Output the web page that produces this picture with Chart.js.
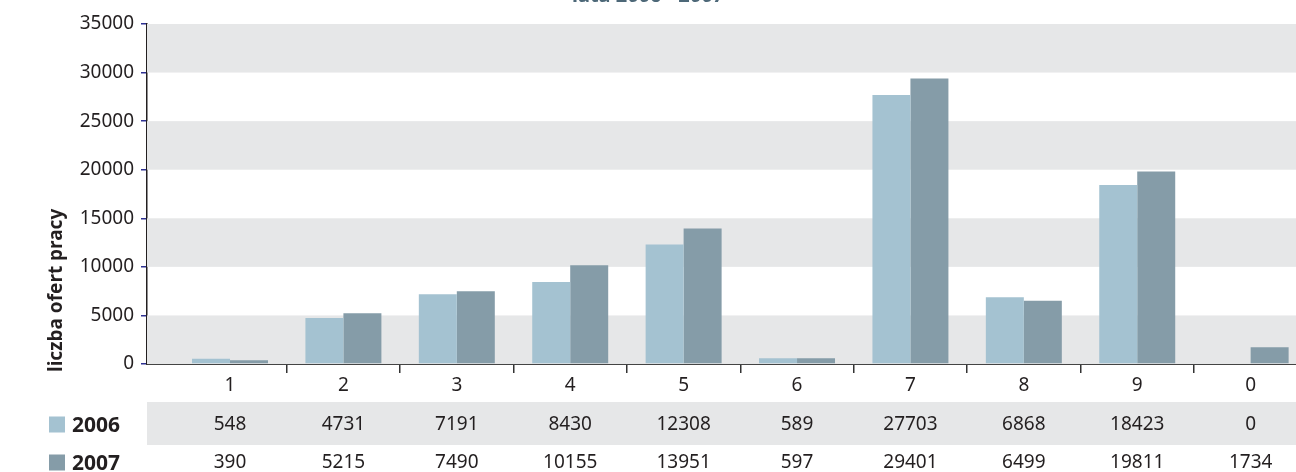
<!DOCTYPE html>
<html>
<head>
<meta charset="utf-8">
<script src="https://cdn.jsdelivr.net/npm/chart.js@4/dist/chart.umd.min.js"></script>
<style>
  html, body { margin: 0; padding: 0; background: #fff; overflow: hidden; width: 1296px; height: 472px; }
  #wrap { position: absolute; left: 0; top: -20px; width: 1296px; height: 492px; }
</style>
</head>
<body>
<div id="wrap"><canvas id="c" width="1296" height="492"></canvas></div>
<script>
const chartTitle = 'lata 2006 - 2007';
const yAxisTitle = 'liczba ofert pracy';
const categories = ['1', '2', '3', '4', '5', '6', '7', '8', '9', '0'];
const seriesNames = ['2006', '2007'];
const values2006 = [548, 4731, 7191, 8430, 12308, 589, 27703, 6868, 18423, 0];
const values2007 = [390, 5215, 7490, 10155, 13951, 597, 29401, 6499, 19811, 1734];
const yTicks = [0, 5000, 10000, 15000, 20000, 25000, 30000, 35000];

const colors = ['#a4c2d1', '#859ca8'];
const bandColor = '#e6e7e8';
const textColor = '#231f20';
const FONT = "'Noto Sans', 'Liberation Sans', sans-serif";

const bandsPlugin = {
  id: 'bands',
  beforeDatasetsDraw(chart) {
    const { ctx, chartArea, scales } = chart;
    const y = scales.y;
    ctx.save();
    ctx.fillStyle = bandColor;
    for (let i = 0; i + 1 < yTicks.length; i += 2) {
      const top = y.getPixelForValue(yTicks[i + 1]);
      const bottom = y.getPixelForValue(yTicks[i]);
      ctx.fillRect(chartArea.left, top, chartArea.right - chartArea.left, bottom - top);
    }
    ctx.restore();
  }
};

const axisTitlePlugin = {
  id: 'axisTitle',
  afterDraw(chart) {
    const { ctx, chartArea } = chart;
    ctx.save();
    ctx.translate(57, chartArea.bottom + 8);
    ctx.rotate(-Math.PI / 2);
    ctx.fillStyle = textColor;
    ctx.font = 'bold 19px ' + FONT;
    ctx.textAlign = 'left';
    ctx.textBaseline = 'middle';
    ctx.fillText(yAxisTitle, 0, 0);
    ctx.restore();
  }
};

const tablePlugin = {
  id: 'dataTable',
  afterDraw(chart) {
    const { ctx, chartArea, scales } = chart;
    const x = scales.x;
    const rows = [values2006, values2007];
    const rowTop = chartArea.bottom + 38;
    const rowH = 43;
    ctx.save();
    ctx.fillStyle = bandColor;
    ctx.fillRect(chartArea.left, rowTop, chart.width - chartArea.left, rowH);
    ctx.textAlign = 'center';
    ctx.textBaseline = 'middle';
    rows.forEach((vals, r) => {
      const cy = rowTop + rowH / 2 + 1 + r * 38;
      ctx.fillStyle = textColor;
      ctx.font = '19px ' + FONT;
      vals.forEach((v, i) => {
        ctx.fillText(String(v), x.getPixelForValue(i), cy);
      });
      ctx.fillStyle = colors[r];
      ctx.fillRect(49, cy - 8, 16, 16);
      ctx.fillStyle = textColor;
      ctx.font = 'bold 21px ' + FONT;
      ctx.textAlign = 'left';
      ctx.fillText(seriesNames[r], 72, cy + 2);
      ctx.textAlign = 'center';
    });
    ctx.restore();
  }
};

new Chart(document.getElementById('c'), {
  type: 'bar',
  data: {
    datasets: [
      { label: seriesNames[0], data: values2006.map((v, i) => ({ x: i, y: v })), backgroundColor: colors[0], borderWidth: 0 },
      { label: seriesNames[1], data: values2007.map((v, i) => ({ x: i, y: v })), backgroundColor: colors[1], borderWidth: 0 }
    ]
  },
  options: {
    responsive: false,
    animation: false,
    devicePixelRatio: 1,
    categoryPercentage: 0.67,
    barPercentage: 1.0,
    layout: { padding: { top: 0, right: 0, bottom: 0, left: 0 } },
    plugins: {
      legend: { display: false },
      tooltip: { enabled: false },
      title: {
        display: true,
        text: chartTitle,
        color: '#4d6878',
        font: { family: FONT, size: 20, weight: 'bold' },
        padding: { top: 4, bottom: 16 }
      }
    },
    scales: {
      x: {
        type: 'linear',
        min: -0.732,
        max: 9.4,
        offset: false,
        afterFit(scale) { scale.height = 108; },
        ticks: {
          stepSize: 1,
          includeBounds: false,
          autoSkip: false,
          maxRotation: 0,
          color: textColor,
          font: { family: FONT, size: 19 },
          padding: 1,
          callback: (v) => categories[v] !== undefined ? categories[v] : ''
        },
        grid: {
          offset: true,
          drawOnChartArea: false,
          drawTicks: true,
          tickLength: 9,
          lineWidth: 1.5,
          color: (ctx) => ctx.index === 0 ? 'rgba(0,0,0,0)' : '#333333'
        },
        border: { display: true, color: '#444444', width: 2 }
      },
      y: {
        min: 0,
        max: 35000,
        afterFit(scale) { scale.width = 147; },
        afterBuildTicks(scale) { scale.ticks = yTicks.map(v => ({ value: v })); },
        ticks: {
          color: textColor,
          font: { family: FONT, size: 19 },
          padding: 7,
          callback: (v) => String(v)
        },
        grid: {
          drawOnChartArea: false,
          drawTicks: true,
          tickLength: 6,
          lineWidth: 1.5,
          color: '#2e3192'
        },
        border: { display: true, color: textColor, width: 1.5 }
      }
    }
  },
  plugins: [bandsPlugin, axisTitlePlugin, tablePlugin]
});
</script>
</body>
</html>
